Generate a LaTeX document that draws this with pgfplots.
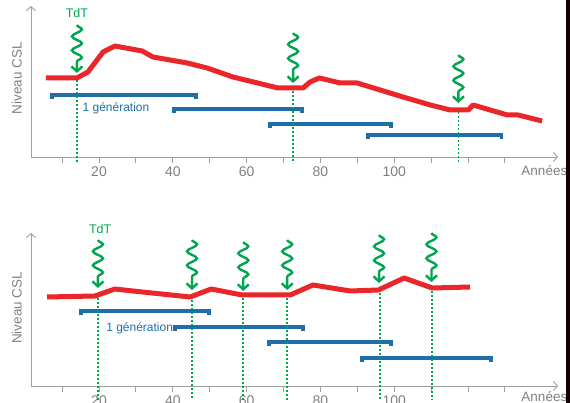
\documentclass[border=0pt]{standalone}
\usepackage{pgfplots}
\pgfplotsset{compat=1.18}
\usepackage{fontspec}
\setmainfont{Liberation Sans}
\usetikzlibrary{decorations.pathmorphing,arrows.meta}

\definecolor{cred}{RGB}{234,38,42}
\definecolor{cblue}{RGB}{30,110,168}
\definecolor{cgreen}{RGB}{0,165,80}
\definecolor{caxis}{RGB}{160,160,160}
\definecolor{ctext}{RGB}{128,128,128}

\tikzset{lab/.style={text=ctext, font=\fontsize{13.5}{15}\selectfont}}

\pgfplotsset{
  panel/.style={
    scale only axis, width=527pt, xmin=1.56, xmax=144.4, ymin=0,
    axis lines=left,
    axis line style={caxis, line width=0.9pt, -{Straight Barb[length=4pt,width=9pt]}},
    xtick={10,20,...,130}, xticklabels={,20,,40,,60,,80,,100,,,},
    ytick=\empty, tick align=outside, major tick length=6pt,
    tick style={caxis, line width=0.9pt},
    xticklabel style={font=\fontsize{14}{16}\selectfont, text=ctext},
    clip=false,
  },
  wave/.style={cgreen, line width=2.4pt, decorate,
    decoration={snake, amplitude=5pt, segment length=14pt, post length=11pt},
    -{Straight Barb[length=5pt,width=11pt]}},
  drop/.style={cgreen, line width=1.7pt, dash pattern=on 2pt off 2pt},
  gen/.style={cblue, line width=3.5pt},
  csl/.style={cred, line width=5pt, line join=round},
}

\begin{document}
\begin{tikzpicture}

% haut : un seul TdT, niveau qui baisse
\begin{axis}[panel, height=151pt, ymax=151, at={(31pt,246pt)}, anchor=south west]
  \addplot[gen] coordinates {(7.2,58) (7.2,62) (46.3,62) (46.3,58)};
  \addplot[gen] coordinates {(40.3,44) (40.3,48) (75.0,48) (75.0,44)};
  \addplot[gen] coordinates {(66.4,29) (66.4,33) (99.2,33) (99.2,29)};
  \addplot[gen] coordinates {(92.9,18) (92.9,22) (129.1,22) (129.1,18)};

  \addplot[drop] coordinates {(14.0,77) (14.0,-6)};
  \addplot[drop] coordinates {(72.6,66) (72.6,-6)};
  \addplot[drop] coordinates {(117.4,45) (117.4,-6)};

  \addplot[csl] coordinates {
    (5.6,79) (14.0,79) (17.0,85) (21.1,105) (24.3,111) (31.7,106) (34.6,100)
    (43.9,94) (49.3,89) (56.3,80) (68.5,69) (75.3,69) (77.2,75) (79.7,79)
    (85.4,74) (90.0,74) (96.2,67) (102.4,60) (109.8,52) (115.2,47) (120.1,47)
    (121.4,52) (126.0,47) (130.7,42) (133.6,42) (140.1,36)};

  \addplot[wave] coordinates {(14.0,132) (14.0,84)};
  \addplot[wave] coordinates {(72.6,124) (72.6,74)};
  \addplot[wave] coordinates {(117.4,102) (117.4,54)};

  \node[text=cgreen, font=\fontsize{12.5}{14}\selectfont] at (axis cs:14,144) {TdT};
  \node[anchor=west, text=cblue, font=\fontsize{12}{14}\selectfont] at (axis cs:14.6,49) {1 génération};
  \node[lab, rotate=90] at (rel axis cs:-0.027,0.52) {Niveau CSL};
  \node[lab, anchor=west] at (rel axis cs:0.924,-0.087) {Années};
\end{axis}

% bas : TdT répétés, niveau maintenu
\begin{axis}[panel, height=153pt, ymax=153, at={(31pt,17pt)}, anchor=south west]
  \addplot[gen] coordinates {(15.1,71) (15.1,75) (49.8,75) (49.8,71)};
  \addplot[gen] coordinates {(40.6,55) (40.6,59) (75.3,59) (75.3,55)};
  \addplot[gen] coordinates {(66.1,40) (66.1,44) (99.2,44) (99.2,40)};
  \addplot[gen] coordinates {(91.3,24) (91.3,28) (126.3,28) (126.3,24)};

  \addplot[drop] coordinates {(19.7,88) (19.7,-14)};
  \addplot[drop] coordinates {(45.2,86) (45.2,-14)};
  \addplot[drop] coordinates {(59.1,88) (59.1,-14)};
  \addplot[drop] coordinates {(71.0,88) (71.0,-14)};
  \addplot[drop] coordinates {(96.15,93) (96.15,-14)};
  \addplot[drop] coordinates {(110.2,95) (110.2,-14)};

  \addplot[csl] coordinates {
    (5.9,89) (18.9,90) (24.3,97) (29.2,95) (44.7,89) (50.4,97) (58.8,91)
    (71.8,91) (78.0,101) (88.1,95) (95.7,96) (102.7,108) (110.3,98) (120.6,99)};

  \addplot[wave] coordinates {(19.7,146) (19.7,98)};
  \addplot[wave] coordinates {(45.2,146) (45.2,96)};
  \addplot[wave] coordinates {(59.1,144) (59.1,95)};
  \addplot[wave] coordinates {(71.0,146) (71.0,96)};
  \addplot[wave] coordinates {(95.9,151) (95.9,103)};
  \addplot[wave] coordinates {(110.1,153) (110.1,104)};

  \node[text=cgreen, font=\fontsize{12.5}{14}\selectfont] at (axis cs:20.3,157) {TdT};
  \node[anchor=west, text=cblue, font=\fontsize{12}{14}\selectfont] at (axis cs:21.0,58) {1 génération};
  \node[lab, rotate=90] at (rel axis cs:-0.027,0.51) {Niveau CSL};
  \node[lab, anchor=west] at (rel axis cs:0.924,-0.072) {Années};
\end{axis}

\fill[black!92!red] (566pt,0) rectangle (570pt,403pt);
\pgfresetboundingbox
\path[use as bounding box] (0,0) rectangle (570pt,403pt);
\end{tikzpicture}
\end{document}
